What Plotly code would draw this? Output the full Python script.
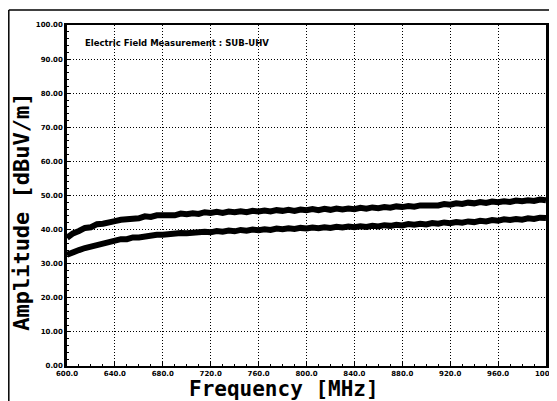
import plotly.graph_objects as go

# Frequency [MHz] sample points (5 MHz steps)
freq = [600, 605, 610, 615, 620, 625, 630, 635, 640, 645, 650, 655, 660, 665, 670, 675,
        680, 685, 690, 695, 700, 705, 710, 715, 720, 725, 730, 735, 740, 745, 750, 755,
        760, 765, 770, 775, 780, 785, 790, 795, 800, 805, 810, 815, 820, 825, 830, 835,
        840, 845, 850, 855, 860, 865, 870, 875, 880, 885, 890, 895, 900, 905, 910, 915,
        920, 925, 930, 935, 940, 945, 950, 955, 960, 965, 970, 975, 980, 985, 990, 995, 1000]

# Upper trace amplitude [dBuV/m]
upper = [37.6, 38.9, 39.6, 40.5, 40.7, 41.6, 41.7, 42.3, 42.5, 42.9, 43.0, 43.5, 43.3, 43.9, 43.7, 44.2,
         44.1, 44.4, 44.2, 44.7, 44.5, 44.8, 44.6, 45.1, 44.9, 45.2, 44.9, 45.3, 45.1, 45.4, 45.1, 45.5,
         45.3, 45.6, 45.3, 45.7, 45.5, 45.8, 45.5, 45.9, 45.7, 46.0, 45.7, 46.1, 45.8, 46.2, 45.9, 46.2,
         46.0, 46.4, 46.1, 46.5, 46.3, 46.6, 46.4, 46.8, 46.6, 46.9, 46.7, 47.1, 47.0, 47.3, 47.1, 47.5,
         47.3, 47.7, 47.5, 47.9, 47.7, 48.1, 47.8, 48.2, 48.0, 48.3, 48.1, 48.5, 48.3, 48.6, 48.4, 48.8, 48.6]

# Lower trace amplitude [dBuV/m]
lower = [32.6, 33.5, 34.0, 34.6, 35.0, 35.6, 35.9, 36.5, 36.7, 37.2, 37.2, 37.7, 37.7, 38.1, 38.1, 38.5,
         38.5, 38.8, 38.7, 39.0, 38.9, 39.2, 39.1, 39.4, 39.2, 39.6, 39.4, 39.7, 39.5, 39.9, 39.7, 40.0,
         39.8, 40.1, 39.9, 40.3, 40.1, 40.4, 40.2, 40.5, 40.3, 40.6, 40.4, 40.7, 40.5, 40.8, 40.6, 40.9,
         40.7, 41.0, 40.8, 41.1, 40.9, 41.3, 41.1, 41.4, 41.2, 41.6, 41.4, 41.7, 41.5, 41.9, 41.7, 42.1,
         41.9, 42.2, 42.0, 42.4, 42.2, 42.6, 42.4, 42.8, 42.6, 43.0, 42.8, 43.1, 42.9, 43.3, 43.1, 43.5, 43.4]

x_ticks = [600, 640, 680, 720, 760, 800, 840, 880, 920, 960, 1000]
x_labels = ["600.0", "640.0", "680.0", "720.0", "760.0", "800.0", "840.0", "880.0", "920.0", "960.0", "1000."]
y_ticks = [0, 10, 20, 30, 40, 50, 60, 70, 80, 90, 100]
y_labels = ["0.00", "10.00", "20.00", "30.00", "40.00", "50.00", "60.00", "70.00", "80.00", "90.00", "100.00"]

chart_title = "Electric Field Measurement : SUB-UHV"
x_title = "Frequency [MHz]"
y_title = "Amplitude [dBuV/m]"

fig = go.Figure()
for series in (upper, lower):
    fig.add_trace(go.Scatter(x=freq, y=series, mode="lines",
                             line=dict(color="black", width=6), showlegend=False))

tickfont = dict(family="DejaVu Sans", size=7, color="black", weight="bold")
xtitlefont = dict(family="DejaVu Sans Mono", size=21, color="black", weight="bold")
ytitlefont = dict(family="DejaVu Sans Mono", size=22, color="black", weight="bold")

fig.update_xaxes(range=[600, 1000], tickvals=x_ticks, ticktext=x_labels, tickfont=tickfont,
                 showgrid=True, gridcolor="black", griddash="1px,2px", gridwidth=1,
                 showline=True, linecolor="black", linewidth=2, mirror=True,
                 ticks="inside", ticklen=4, tickcolor="black", ticklabeloverflow="allow",
                 minor=dict(ticks="inside", ticklen=2, dtick=10, tickcolor="black"),
                 zeroline=False, automargin=False)
fig.update_yaxes(range=[0, 100], tickvals=y_ticks, ticktext=y_labels, tickfont=tickfont,
                 showgrid=True, gridcolor="black", griddash="1px,2px", gridwidth=1,
                 showline=True, linecolor="black", linewidth=2.5, mirror=True,
                 ticks="inside", ticklen=4, tickcolor="black",
                 minor=dict(ticks="inside", ticklen=2, dtick=2, tickcolor="black"),
                 zeroline=False, automargin=False)

fig.add_annotation(x=613.5, y=94.7, xref="x", yref="y", text=chart_title, showarrow=False,
                   xanchor="left", yanchor="middle",
                   font=dict(family="DejaVu Sans", size=8.5, color="black", weight="bold"))
fig.add_annotation(x=0.453, y=-0.066, xref="paper", yref="paper", text=x_title, showarrow=False,
                   xanchor="center", yanchor="middle", font=xtitlefont)
fig.add_annotation(x=-0.094, y=0.452, xref="paper", yref="paper", text=y_title, showarrow=False,
                   xanchor="center", yanchor="middle", textangle=-90, font=ytitlefont)

# outer frame of the scanned page
fig.add_shape(type="line", xref="paper", yref="paper", x0=-0.1215, x1=-0.1215, y0=1.044, y1=-0.2,
              line=dict(color="black", width=1.5))
fig.add_shape(type="line", xref="paper", yref="paper", x0=-0.1215, x1=1.01, y0=1.044, y1=1.044,
              line=dict(color="black", width=1.5))

fig.update_layout(width=549, height=393, margin=dict(l=59, r=11, t=17, b=35),
                  paper_bgcolor="white", plot_bgcolor="white")

fig.write_html("out.html")
